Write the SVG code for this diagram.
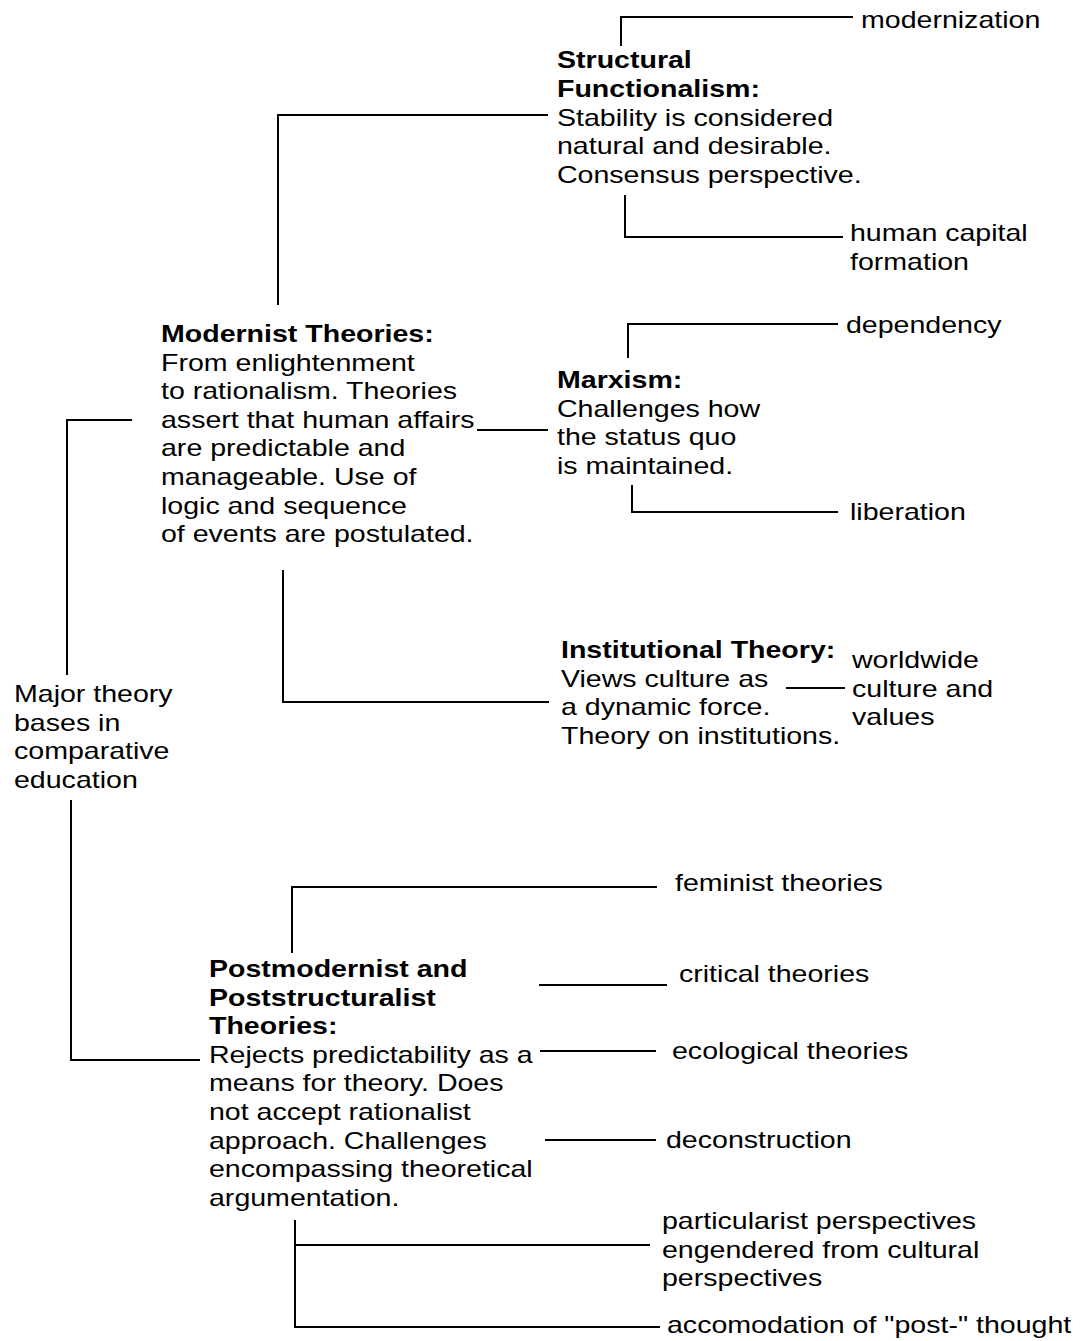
<svg xmlns="http://www.w3.org/2000/svg" width="1082" height="1341" viewBox="0 0 1082 1341">
<style>
.t{font-family:"Liberation Sans",Arial,Helvetica,sans-serif;font-size:24px;fill:#000}
.b{font-weight:bold}
.c{stroke:#000;stroke-width:2;fill:none}
</style>
<rect width="1082" height="1341" fill="#fff"/>
<g id="connectors">
<path class="c" d="M621,46 V17 H853"/>
<path class="c" d="M278,305 V115 H548"/>
<path class="c" d="M625,195 V237 H843"/>
<path class="c" d="M628,358 V324 H838"/>
<path class="c" d="M477,430 H548"/>
<path class="c" d="M632,485 V512 H838"/>
<path class="c" d="M132,420 H67 V675"/>
<path class="c" d="M283,570 V702 H549"/>
<path class="c" d="M786,688 H845"/>
<path class="c" d="M71,800 V1060 H200"/>
<path class="c" d="M292,953 V887 H657"/>
<path class="c" d="M539,985 H667"/>
<path class="c" d="M540,1051 H656"/>
<path class="c" d="M545,1140 H656"/>
<path class="c" d="M295,1220 V1327 H660"/>
<path class="c" d="M295,1245 H650"/>
</g>
<g id="root">
<text class="t" transform="translate(14,702) scale(1.19,1)"><tspan x="0" y="0">Major theory</tspan><tspan x="0" dy="28.6">bases in</tspan><tspan x="0" dy="28.6">comparative</tspan><tspan x="0" dy="28.6">education</tspan></text>
</g>
<g id="modernist">
<text class="t" transform="translate(161,342) scale(1.19,1)"><tspan x="0" y="0" class="b">Modernist Theories:</tspan><tspan x="0" dy="28.6">From enlightenment</tspan><tspan x="0" dy="28.6">to rationalism. Theories</tspan><tspan x="0" dy="28.6">assert that human affairs</tspan><tspan x="0" dy="28.6">are predictable and</tspan><tspan x="0" dy="28.6">manageable. Use of</tspan><tspan x="0" dy="28.6">logic and sequence</tspan><tspan x="0" dy="28.6">of events are postulated.</tspan></text>
</g>
<g id="structural">
<text class="t" transform="translate(557,68) scale(1.19,1)"><tspan x="0" y="0" class="b">Structural</tspan><tspan x="0" dy="28.8" class="b">Functionalism:</tspan><tspan x="0" dy="28.8">Stability is considered</tspan><tspan x="0" dy="28.8">natural and desirable.</tspan><tspan x="0" dy="28.8">Consensus perspective.</tspan></text>
</g>
<g id="modernization">
<text class="t" transform="translate(861,28) scale(1.19,1)">modernization</text>
</g>
<g id="humancapital">
<text class="t" transform="translate(850,241) scale(1.19,1)"><tspan x="0" y="0">human capital</tspan><tspan x="0" dy="28.8">formation</tspan></text>
</g>
<g id="marxism">
<text class="t" transform="translate(557,388) scale(1.19,1)"><tspan x="0" y="0" class="b">Marxism:</tspan><tspan x="0" dy="28.6">Challenges how</tspan><tspan x="0" dy="28.6">the status quo</tspan><tspan x="0" dy="28.6">is maintained.</tspan></text>
</g>
<g id="dependency">
<text class="t" transform="translate(846,333) scale(1.19,1)">dependency</text>
</g>
<g id="liberation">
<text class="t" transform="translate(850,520) scale(1.19,1)">liberation</text>
</g>
<g id="institutional">
<text class="t" transform="translate(561,658) scale(1.19,1)"><tspan x="0" y="0" class="b">Institutional Theory:</tspan><tspan x="0" dy="28.6">Views culture as</tspan><tspan x="0" dy="28.6">a dynamic force.</tspan><tspan x="0" dy="28.6">Theory on institutions.</tspan></text>
</g>
<g id="worldwide">
<text class="t" transform="translate(852,668) scale(1.19,1)"><tspan x="0" y="0">worldwide</tspan><tspan x="0" dy="28.6">culture and</tspan><tspan x="0" dy="28.6">values</tspan></text>
</g>
<g id="postmodernist">
<text class="t" transform="translate(209,977) scale(1.19,1)"><tspan x="0" y="0" class="b">Postmodernist and</tspan><tspan x="0" dy="28.6" class="b">Poststructuralist</tspan><tspan x="0" dy="28.6" class="b">Theories:</tspan><tspan x="0" dy="28.6">Rejects predictability as a</tspan><tspan x="0" dy="28.6">means for theory. Does</tspan><tspan x="0" dy="28.6">not accept rationalist</tspan><tspan x="0" dy="28.6">approach. Challenges</tspan><tspan x="0" dy="28.6">encompassing theoretical</tspan><tspan x="0" dy="28.6">argumentation.</tspan></text>
</g>
<g id="feminist">
<text class="t" transform="translate(675,891) scale(1.19,1)">feminist theories</text>
</g>
<g id="critical">
<text class="t" transform="translate(679,982) scale(1.19,1)">critical theories</text>
</g>
<g id="ecological">
<text class="t" transform="translate(672,1059) scale(1.19,1)">ecological theories</text>
</g>
<g id="deconstruction">
<text class="t" transform="translate(666,1148) scale(1.19,1)">deconstruction</text>
</g>
<g id="particularist">
<text class="t" transform="translate(662,1229) scale(1.19,1)"><tspan x="0" y="0">particularist perspectives</tspan><tspan x="0" dy="28.6">engendered from cultural</tspan><tspan x="0" dy="28.6">perspectives</tspan></text>
</g>
<g id="accomodation">
<text class="t" transform="translate(667,1333) scale(1.19,1)">accomodation of "post-" thought</text>
</g>
</svg>
